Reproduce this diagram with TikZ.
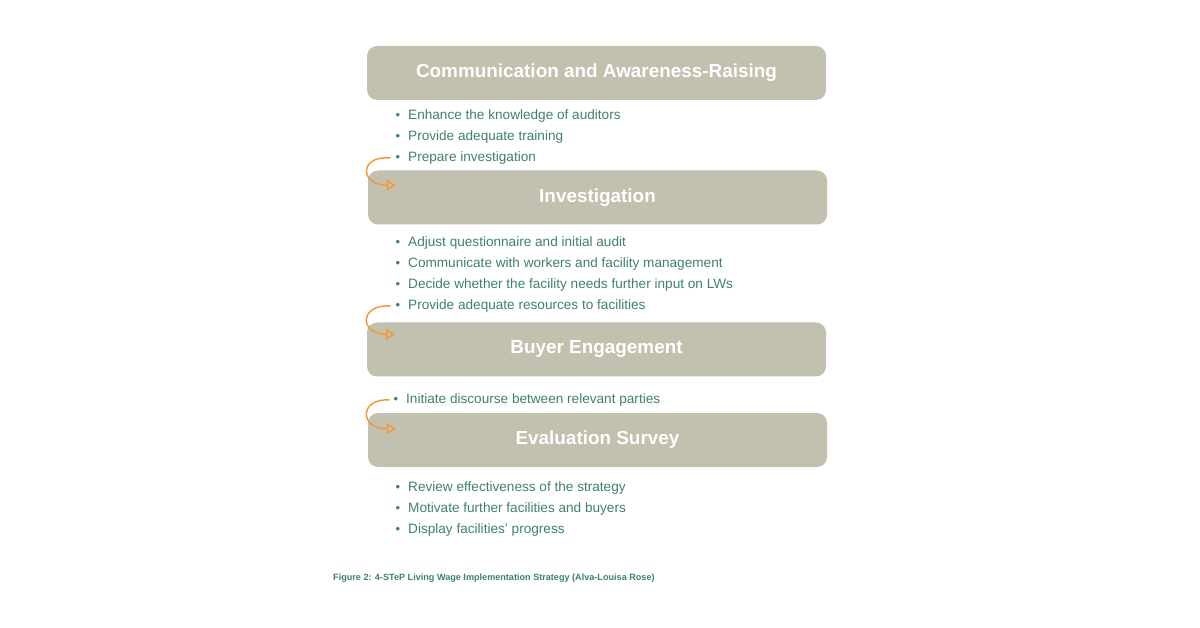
\documentclass[tikz,border=0pt]{standalone}
\usepackage{fontspec}
\setmainfont{Liberation Sans}
\usetikzlibrary{arrows.meta}
\definecolor{boxfill}{HTML}{C2C0AF}
\definecolor{itemgreen}{HTML}{3F8262}
\definecolor{flowarrow}{HTML}{F29A3A}
\tikzset{
	stagebox/.style={draw=none, fill=boxfill, rounded corners=10pt, minimum width=459pt, minimum height=54pt, inner sep=0pt, text=white, font=\fontsize{18.9}{21}\selectfont\bfseries},
	item/.style={anchor=west, inner sep=0pt, text=itemgreen, font=\fontsize{13.6}{15}\selectfont},
	dot/.style={inner sep=0pt, text=itemgreen, font=\fontsize{13}{14}\selectfont},
	loopback/.style={draw=flowarrow, line width=1.5pt, -{Triangle[open, length=9pt, width=11pt]}}
}
\begin{document}
\begin{tikzpicture}[x=1pt, y=-1pt]
			%%%%% FRAME %%%%%
			\useasboundingbox (0, 0) rectangle (1200, 628);
			
			%%%%% STAGES %%%%%
			\node[stagebox] (comm) at (596.5, 73) {Communication and Awareness-Raising};
			\node[stagebox] (inv) at (597.5, 197.5) {Investigation};
			\node[stagebox] (buy) at (596.5, 349.5) {Buyer Engagement};
			\node[stagebox] (eval) at (597.5, 440) {Evaluation Survey};
			
			%%%%% ITEMS %%%%%
			\foreach \t [count=\i] in {Enhance the knowledge of auditors, Provide adequate training, Prepare investigation}{
				\node[dot] (da\i) at (398, 116+21*\i-21) {\textbullet};
				\node[item] (ia\i) at (408, 116+21*\i-21) {\t};
			}
			\foreach \t [count=\i] in {Adjust questionnaire and initial audit, Communicate with workers and facility management, Decide whether the facility needs further input on LWs, Provide adequate resources to facilities}{
				\node[dot] (db\i) at (398, 243+21*\i-21) {\textbullet};
				\node[item] (ib\i) at (408, 243+21*\i-21) {\t};
			}
			\node[dot] (dc1) at (396, 400) {\textbullet};
			\node[item] (ic1) at (406, 400) {Initiate discourse between relevant parties};
			\foreach \t [count=\i] in {Review effectiveness of the strategy, Motivate further facilities and buyers, Display facilities' progress}{
				\node[dot] (dd\i) at (398, 488+21*\i-21) {\textbullet};
				\node[item] (id\i) at (408, 488+21*\i-21) {\t};
			}
			
			%%%%% ARROWS %%%%%
			\coordinate (ta) at ([xshift=-5pt]da3.west);
			\coordinate (ea) at ([shift={(28pt,-15pt)}]inv.north west);
			\draw[loopback] (ta) .. controls (359, 155) and (359, 185) .. (ea);
			
			\coordinate (tb) at ([xshift=-5pt]db4.west);
			\coordinate (eb) at ([shift={(28pt,-12pt)}]buy.north west);
			\draw[loopback] (tb) .. controls (359, 304) and (359, 334) .. (eb);
			
			\coordinate (tc) at ([xshift=-4pt]dc1.west);
			\coordinate (ec) at ([shift={(28pt,-16pt)}]eval.north west);
			\draw[loopback] (tc) .. controls (359, 398) and (359, 429) .. (ec);
			
			%%%%% CAPTION %%%%%
			\node[anchor=west, inner sep=0pt, text=itemgreen, font=\fontsize{9.1}{11}\selectfont\bfseries] (cap) at (333, 578) {Figure 2: 4-STeP Living Wage Implementation Strategy (Alva-Louisa Rose)};
		\end{tikzpicture}
\end{document}
